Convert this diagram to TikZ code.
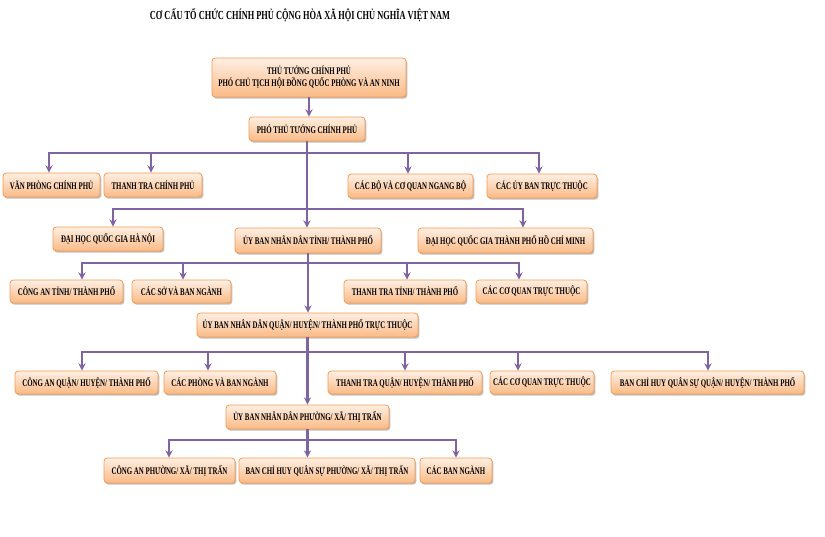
\documentclass[tikz,border=0pt]{standalone}
\usepackage{fontspec}
\setmainfont{Liberation Serif}[FakeStretch=0.68]
\usetikzlibrary{arrows.meta,shadows}
\definecolor{ln}{HTML}{8064A2}
\definecolor{bxborder}{HTML}{F59A52}
\definecolor{bxtop}{HTML}{FEEFE3}
\definecolor{bxbot}{HTML}{FBBA85}
\newcommand\bxat[6]{\node[bx, minimum width={(#4-#2)*0.75pt}, minimum height={(#5-#3)*0.75pt}] (#1) at ({(#2+#4)/2},{(#3+#5)/2}) {#6};}
\begin{document}
\begin{tikzpicture}[x=0.75pt,y=-0.75pt,
  bx/.style={draw=bxborder, line width=0.6pt, rounded corners=2.5pt, top color=bxtop, bottom color=bxbot,
    inner sep=0pt, align=center, font=\fontsize{7.6}{9}\selectfont\bfseries,
    drop shadow={shadow xshift=1pt, shadow yshift=-1.3pt, opacity=0.25, fill=black}},
  conn/.style={draw=ln, line width=1.6pt, -{Stealth[length=5.5pt,width=5.5pt,inset=1.8pt]}}]
\useasboundingbox (0,0) rectangle (825,536);
\node[font=\fontsize{9.2}{11}\selectfont\bfseries] (title) at (300,15) {CƠ CẤU TỔ CHỨC CHÍNH PHỦ CỘNG HÒA XÃ HỘI CHỦ NGHĨA VIỆT NAM};
% boxes
\bxat{tt}{212}{58}{406}{97}{THỦ TƯỚNG CHÍNH PHỦ\\PHÓ CHỦ TỊCH HỘI ĐỒNG QUỐC PHÒNG VÀ AN NINH}
\bxat{ptt}{249}{117}{365}{141}{PHÓ THỦ TƯỚNG CHÍNH PHỦ}
\bxat{vp}{3}{173}{100}{197}{VĂN PHÒNG CHÍNH PHỦ}
\bxat{ttcp}{104}{173}{202}{197}{THANH TRA CHÍNH PHỦ}
\bxat{cb}{348}{174}{473}{198}{CÁC BỘ VÀ CƠ QUAN NGANG BỘ}
\bxat{cub}{487}{174}{597}{198}{CÁC ỦY BAN TRỰC THUỘC}
\bxat{hn}{53}{227}{163}{251}{ĐẠI HỌC QUỐC GIA HÀ NỘI}
\bxat{ubt}{235}{228}{381}{253}{ỦY BAN NHÂN DÂN TỈNH/ THÀNH PHỐ}
\bxat{hcm}{418}{228}{593}{253}{ĐẠI HỌC QUỐC GIA THÀNH PHỐ HỒ CHÍ MINH}
\bxat{cat}{10}{280}{123}{303}{CÔNG AN TỈNH/ THÀNH PHỐ}
\bxat{cs}{132}{280}{231}{303}{CÁC SỞ VÀ BAN NGÀNH}
\bxat{ttt}{344}{280}{466}{303}{THANH TRA TỈNH/ THÀNH PHỐ}
\bxat{cq1}{476}{280}{587}{303}{CÁC CƠ QUAN TRỰC THUỘC}
\bxat{ubq}{197}{313}{418}{337}{ỦY BAN NHÂN DÂN QUẬN/ HUYỆN/ THÀNH PHỐ TRỰC THUỘC}
\bxat{caq}{15}{371}{158}{394}{CÔNG AN QUẬN/ HUYỆN/ THÀNH PHỐ}
\bxat{cp}{164}{371}{276}{394}{CÁC PHÒNG VÀ BAN NGÀNH}
\bxat{ttq}{328}{371}{482}{394}{THANH TRA QUẬN/ HUYỆN/ THÀNH PHỐ}
\bxat{cq2}{490}{371}{594}{394}{CÁC CƠ QUAN TRỰC THUỘC}
\bxat{bch}{611}{371}{804}{394}{BAN CHỈ HUY QUÂN SỰ QUẬN/ HUYỆN/ THÀNH PHỐ}
\bxat{ubp}{226}{405}{389}{429}{ỦY BAN NHÂN DÂN PHƯỜNG/ XÃ/ THỊ TRẤN}
\bxat{cap}{104}{458}{235}{483}{CÔNG AN PHƯỜNG/ XÃ/ THỊ TRẤN}
\bxat{bchp}{239}{458}{415}{483}{BAN CHỈ HUY QUÂN SỰ PHƯỜNG/ XÃ/ THỊ TRẤN}
\bxat{cbn}{420}{458}{492}{483}{CÁC BAN NGÀNH}
% bus drop points
\coordinate (k11) at (49,153); \coordinate (k12) at (151,153);
\coordinate (k13) at (408,153); \coordinate (k14) at (539,153);
\coordinate (k21) at (113,209); \coordinate (k23) at (523,209);
\coordinate (k31) at (82,263); \coordinate (k32) at (183,263);
\coordinate (k33) at (407,263); \coordinate (k34) at (519,263);
\coordinate (k41) at (82,352); \coordinate (k42) at (208,352);
\coordinate (k43) at (405,352); \coordinate (k44) at (518,352); \coordinate (k45) at (708,352);
\coordinate (k51) at (169,440); \coordinate (k53) at (456,440);
% connectors
\draw[conn] (tt.south) -- (tt.south |- ptt.north);
\foreach \k/\c in {k11/vp,k12/ttcp,k13/cb,k14/cub,k21/hn,k23/hcm}
  \draw[conn] (ptt.south) |- (\k) -- (\k |- \c.north);
\draw[conn] (ptt.south) -- (ptt.south |- ubt.north);
\foreach \k/\c in {k31/cat,k32/cs,k33/ttt,k34/cq1}
  \draw[conn] (ubt.south) |- (\k) -- (\k |- \c.north);
\draw[conn] (ubt.south) -- (ubt.south |- ubq.north);
\foreach \k/\c in {k41/caq,k42/cp,k43/ttq,k44/cq2,k45/bch}
  \draw[conn] (ubq.south) |- (\k) -- (\k |- \c.north);
\draw[conn] (ubq.south) -- (ubq.south |- ubp.north);
\foreach \k/\c in {k51/cap,k53/cbn}
  \draw[conn] (ubp.south) |- (\k) -- (\k |- \c.north);
\draw[conn] (ubp.south) -- (ubp.south |- bchp.north);
\end{tikzpicture}
\end{document}
